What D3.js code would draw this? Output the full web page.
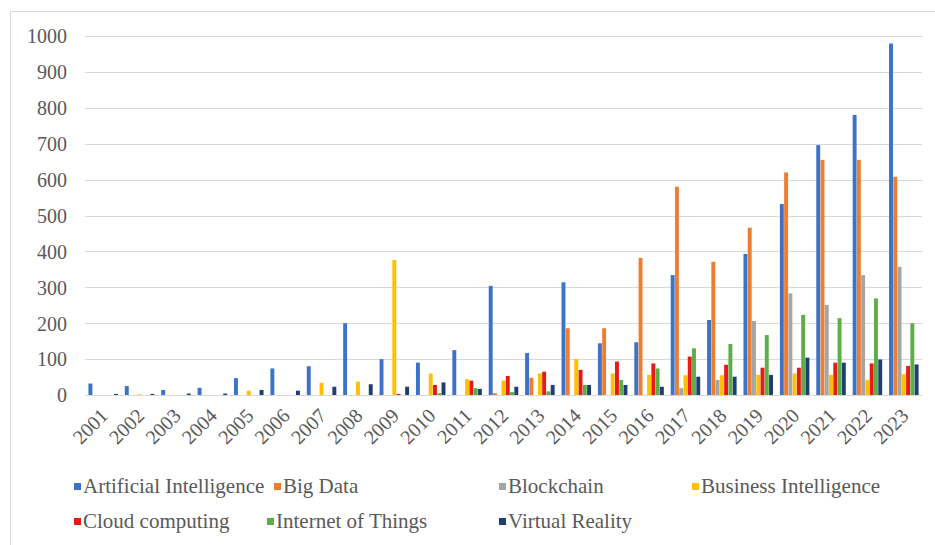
<!DOCTYPE html>
<html>
<head>
<meta charset="utf-8">
<script src="https://cdn.jsdelivr.net/npm/d3@7"></script>
<style>
  body { margin: 0; background: #fff; }
</style>
</head>
<body>
<svg id="chart" width="935" height="545"></svg>
<script>
const years = ["2001","2002","2003","2004","2005","2006","2007","2008","2009","2010","2011","2012",
  "2013","2014","2015","2016","2017","2018","2019","2020","2021","2022","2023"];

const seriesNames = ["Artificial Intelligence", "Big Data", "Blockchain", "Business Intelligence",
  "Cloud computing", "Internet of Things", "Virtual Reality"];

const aiValues = [32, 25, 14, 20, 47, 74, 80, 200, 100, 90, 125, 304, 117, 314, 144, 147, 334, 209, 393, 532, 696, 780, 979];
const bigDataValues = [0, 0, 0, 0, 0, 0, 0, 0, 0, 0, 0, 5, 48, 186, 186, 382, 580, 371, 466, 620, 655, 655, 608];
const blockchainValues = [0, 0, 0, 0, 0, 0, 0, 0, 0, 0, 0, 0, 0, 0, 0, 0, 19, 42, 206, 283, 251, 334, 357];
const biValues = [0, 2, 0, 0, 12, 0, 34, 37, 376, 60, 44, 40, 60, 100, 60, 56, 55, 55, 56, 60, 56, 42, 58];
const cloudValues = [0, 0, 0, 0, 0, 0, 0, 0, 3, 28, 40, 53, 65, 70, 93, 88, 107, 84, 76, 76, 90, 88, 81];
const iotValues = [0, 0, 0, 0, 0, 0, 0, 0, 0, 5, 19, 8, 10, 28, 42, 74, 130, 142, 167, 223, 214, 269, 200];
const vrValues = [3, 3, 4, 4, 14, 12, 23, 30, 23, 35, 17, 23, 28, 28, 28, 23, 51, 51, 56, 104, 90, 99, 85];

const yTicks = [0, 100, 200, 300, 400, 500, 600, 700, 800, 900, 1000];

const colors = ["#3b73c9", "#ed7d31", "#a5a5a5", "#ffc000", "#e41b17", "#5eae48", "#1f3f73"];
const allValues = [aiValues, bigDataValues, blockchainValues, biValues, cloudValues, iotValues, vrValues];

const FONT = "'Liberation Serif', 'Times New Roman', 'DejaVu Serif', serif";

// legend layout (two rows like the original)
const legendPos = [[80, 487], [280, 487], [505, 487], [698, 487], [80, 522], [273, 522], [505, 522]];

const svg = d3.select("#chart");

// outer frame
svg.append("line").attr("x1", 10).attr("x2", 935).attr("y1", 11.5).attr("y2", 11.5)
  .attr("stroke", "#d9d9d9");
svg.append("line").attr("x1", 10.5).attr("x2", 10.5).attr("y1", 11).attr("y2", 545)
  .attr("stroke", "#d9d9d9");

const plotLeft = 85, plotRight = 922, plotTop = 36, plotBottom = 395;

const x0 = d3.scaleBand().domain(years).range([plotLeft, plotRight]).paddingInner(0.17).paddingOuter(0.085);
const x1 = d3.scaleBand().domain(d3.range(seriesNames.length)).range([0, x0.bandwidth()]).padding(0.08);
const y = d3.scaleLinear().domain([0, 1000]).range([plotBottom, plotTop]);

// gridlines
svg.append("g")
  .selectAll("line")
  .data(yTicks)
  .enter()
  .append("line")
  .attr("x1", plotLeft)
  .attr("x2", plotRight)
  .attr("y1", d => Math.round(y(d)) + 0.5)
  .attr("y2", d => Math.round(y(d)) + 0.5)
  .attr("stroke", "#d9d9d9")
  .attr("stroke-width", 1);

// y axis labels
const yAxis = svg.append("g")
  .attr("transform", `translate(${plotLeft - 18},0)`)
  .call(d3.axisLeft(y).tickValues(yTicks).tickFormat(d3.format("d")).tickSize(0).tickPadding(0));
yAxis.attr("font-family", FONT).attr("font-size", 20);
yAxis.select(".domain").remove();
yAxis.selectAll("text")
  .attr("fill", "#595959")
  .attr("dy", "0.34em");

// bars
const groups = svg.append("g")
  .selectAll("g")
  .data(years)
  .enter()
  .append("g")
  .attr("transform", d => `translate(${x0(d)},0)`);

groups.selectAll("rect")
  .data((yr, i) => allValues.map((vals, s) => ({ s: s, v: vals[i] })))
  .enter()
  .append("rect")
  .attr("x", d => x1(d.s))
  .attr("width", x1.bandwidth())
  .attr("y", d => y(d.v))
  .attr("height", d => plotBottom - y(d.v))
  .attr("fill", d => colors[d.s]);

// x axis labels
const xAxis = svg.append("g")
  .attr("transform", `translate(0,${plotBottom})`)
  .call(d3.axisBottom(x0).tickSize(0).tickPadding(0));
xAxis.attr("font-family", FONT).attr("font-size", 20);
xAxis.select(".domain").remove();
xAxis.selectAll("text")
  .attr("fill", "#595959")
  .attr("text-anchor", "end")
  .attr("y", 0)
  .attr("dy", "0")
  .attr("transform", "translate(6,22) rotate(-45)");

// legend
const legend = svg.append("g")
  .attr("font-family", FONT)
  .selectAll("g")
  .data(seriesNames)
  .enter()
  .append("g")
  .attr("transform", (d, i) => `translate(${legendPos[i][0]},${legendPos[i][1]})`);

legend.append("rect")
  .attr("x", -6)
  .attr("y", -4)
  .attr("width", 7)
  .attr("height", 7)
  .attr("fill", (d, i) => colors[i]);

legend.append("text")
  .attr("x", 3)
  .attr("y", 6)
  .attr("font-size", 21)
  .attr("fill", "#595959")
  .text(d => d);
</script>
</body>
</html>
